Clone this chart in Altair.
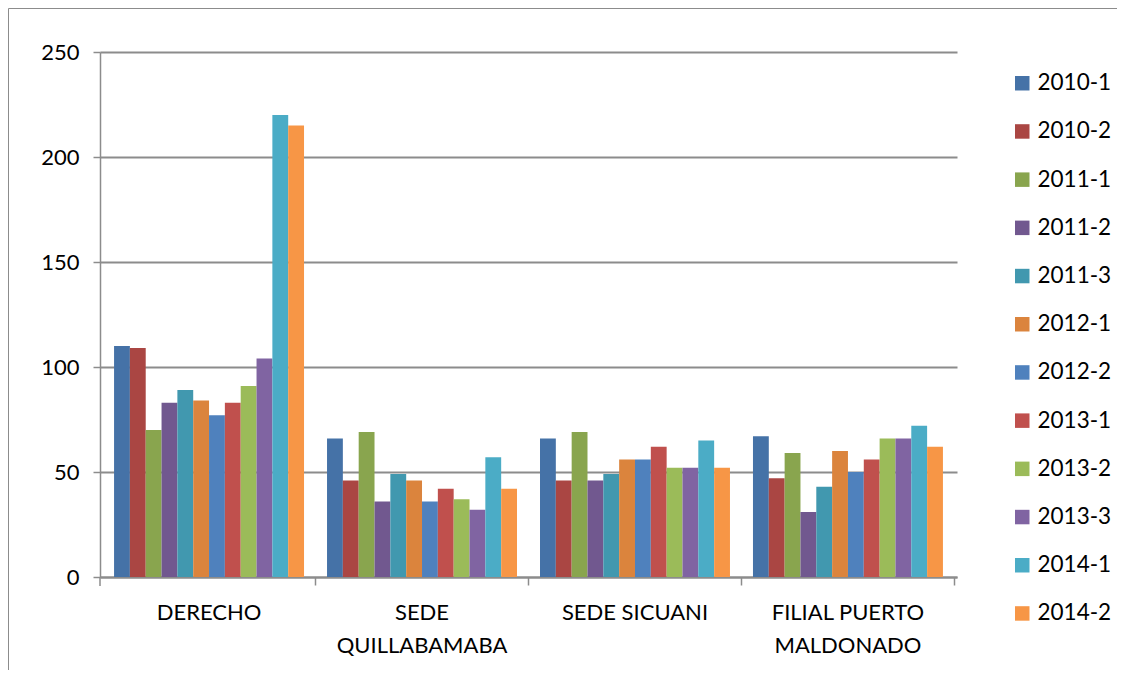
import altair as alt
import pandas as pd

categories = ["DERECHO", "SEDE QUILLABAMABA", "SEDE SICUANI", "FILIAL PUERTO MALDONADO"]
label_lines = {
    "SEDE QUILLABAMABA": ["SEDE", "QUILLABAMABA"],
    "FILIAL PUERTO MALDONADO": ["FILIAL PUERTO", "MALDONADO"],
}
semesters = ["2010-1", "2010-2", "2011-1", "2011-2", "2011-3", "2012-1",
             "2012-2", "2013-1", "2013-2", "2013-3", "2014-1", "2014-2"]

derecho = [110, 109, 70, 83, 89, 84, 77, 83, 91, 104, 220, 215]
quillabamaba = [66, 46, 69, 36, 49, 46, 36, 42, 37, 32, 57, 42]
sicuani = [66, 46, 69, 46, 49, 56, 56, 62, 52, 52, 65, 52]
puerto_maldonado = [67, 47, 59, 31, 43, 60, 50, 56, 66, 66, 72, 62]

colors = ["#4572A7", "#AA4643", "#89A54E", "#71588F", "#4198AF", "#DB843D",
          "#4F81BD", "#C0504D", "#9BBB59", "#8064A2", "#4BACC6", "#F79646"]

y_ticks = [0, 50, 100, 150, 200, 250]

rows = []
for cat, vals in zip(categories, [derecho, quillabamaba, sicuani, puerto_maldonado]):
    for sem, v in zip(semesters, vals):
        rows.append({"cat": cat, "sem": sem, "value": v})
df = pd.DataFrame(rows)

label_expr = ""
for k, parts in label_lines.items():
    arr = "[" + ", ".join("'" + p + "'" for p in parts) + "]"
    label_expr += f"datum.label == '{k}' ? {arr} : "
label_expr += "datum.label"

W, H = 857, 525
PL, PT = 92, 44
TOTAL_W, TOTAL_H = 1109, 662
PR = TOTAL_W - PL - W
PB = TOTAL_H - PT - H

GRAY = "#8c8c8c"
FONT = "Lato"

pi, po = 0.108, 0.066

bars = alt.Chart(df).mark_bar().encode(
    x=alt.X("cat:N", sort=categories,
            scale=alt.Scale(paddingInner=pi, paddingOuter=po),
            axis=alt.Axis(title=None, labelAngle=0, labelFont=FONT, labelFontSize=22,
                          labelColor="black", labelExpr=label_expr, labelLineHeight=33,
                          labelPadding=17, labelOverlap=False, labelLimit=400,
                          ticks=True, tickSize=8, tickColor=GRAY, tickWidth=1.5,
                          bandPosition=1 + (pi / 2) / (1 - pi),
                          domainColor=GRAY, domainWidth=2, grid=False)),
    xOffset=alt.XOffset("sem:N", sort=semesters,
                        scale=alt.Scale(paddingInner=0, paddingOuter=0)),
    y=alt.Y("value:Q", scale=alt.Scale(domain=[0, 250], nice=False),
            axis=alt.Axis(title=None, values=y_ticks, labelFont=FONT, labelFontSize=22,
                          labelColor="black", labelPadding=14, tickSize=7,
                          tickColor=GRAY, tickWidth=1.5, domainColor=GRAY, domainWidth=1.5,
                          grid=True, gridColor=GRAY, gridWidth=2.2)),
    color=alt.Color("sem:N", sort=semesters,
                    scale=alt.Scale(domain=semesters, range=colors),
                    legend=alt.Legend(title=None, orient="none", legendX=911, legendY=20,
                                      symbolType="square", symbolSize=210,
                                      symbolStrokeWidth=0, labelFont=FONT,
                                      labelFontSize=22.5, labelColor="black",
                                      labelOffset=4, rowPadding=25.2, padding=0)),
)

border = alt.Chart(alt.Data(values=[{"a": 1}])).mark_rect(
    fill="white", fillOpacity=0, stroke=GRAY, strokeWidth=1
).encode(
    x=alt.value(-PL + 0.5), x2=alt.value(W + PR + 20),
    y=alt.value(-PT + 0.5), y2=alt.value(H + PB + 20),
)

left_tick = alt.Chart(alt.Data(values=[{"a": 1}])).mark_rule(
    color=GRAY, strokeWidth=1.5
).encode(x=alt.value(0), y=alt.value(H), y2=alt.value(H + 9))

chart = alt.layer(border, bars, left_tick).properties(
    width=W, height=H,
    autosize=alt.AutoSizeParams(type="none"),
    padding={"left": PL, "top": PT, "right": PR, "bottom": PB},
    background="white",
).configure_view(stroke=None)

chart.save("out.html", embed_options={"renderer": "svg", "actions": False})
